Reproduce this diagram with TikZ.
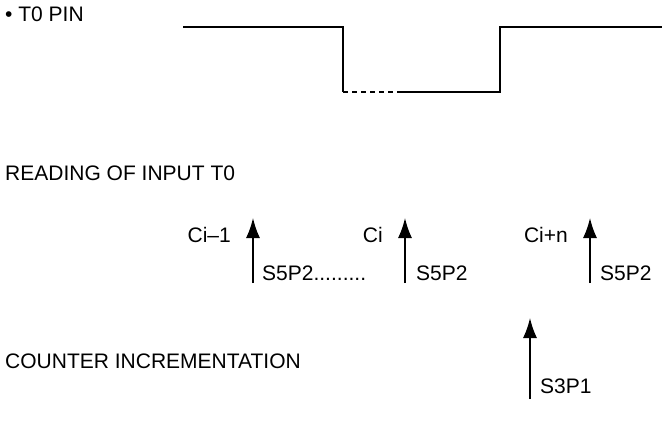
\documentclass[tikz,border=0pt]{standalone}
\usepackage{fontspec}
\setmainfont{Liberation Sans}
\usetikzlibrary{arrows.meta}
\begin{document}
\begin{tikzpicture}[x=1pt,y=-1pt,
  lbl/.style={font=\fontsize{21}{24}\selectfont, inner sep=0pt},
  wave/.style={line width=1.6pt},
  sig/.style={line width=1.6pt, -{Latex[length=20pt,width=14pt]}}]
\useasboundingbox (0,0) rectangle (665,432);
% titles
\node[lbl, anchor=west] (pin) at (5,14) {\textbullet\ T0 PIN};
\node[lbl, anchor=west] (read) at (5,173) {READING OF INPUT T0};
\node[lbl, anchor=west] (cnt) at (5,361) {COUNTER INCREMENTATION};
% waveform
\coordinate (w0) at (183,27);
\coordinate (w1) at (343,27);
\coordinate (w2) at (343,92);
\coordinate (w3) at (400,92);
\coordinate (w4) at (500,92);
\coordinate (w5) at (500,27);
\coordinate (w6) at (662,27);
\draw[wave] (w0) -- (w1) -- (w2);
\draw[wave, dash pattern=on 5pt off 4pt] (w2) -- (w3);
\draw[wave] (w3) -- (w4) -- (w5) -- (w6);
% reading arrows
\coordinate (a1b) at (253,283); \coordinate (a1t) at (253,218);
\coordinate (a2b) at (405,283); \coordinate (a2t) at (405,218);
\coordinate (a3b) at (590,283); \coordinate (a3t) at (590,218);
\draw[sig] (a1b) -- (a1t);
\draw[sig] (a2b) -- (a2t);
\draw[sig] (a3b) -- (a3t);
\node[lbl, anchor=east] (c1) at (231,235) {Ci--1};
\node[lbl, anchor=east] (c2) at (383,235) {Ci};
\node[lbl, anchor=east] (c3) at (568,235) {Ci+n};
\node[lbl, anchor=west] (s1) at (262,273) {S5P2.........};
\node[lbl, anchor=west] (s2) at (416,273) {S5P2};
\node[lbl, anchor=west] (s3) at (600,273) {S5P2};
% counter arrow
\coordinate (b1b) at (530,399); \coordinate (b1t) at (530,318);
\draw[sig] (b1b) -- (b1t);
\node[lbl, anchor=west] (s4) at (540,386) {S3P1};
\end{tikzpicture}
\end{document}
